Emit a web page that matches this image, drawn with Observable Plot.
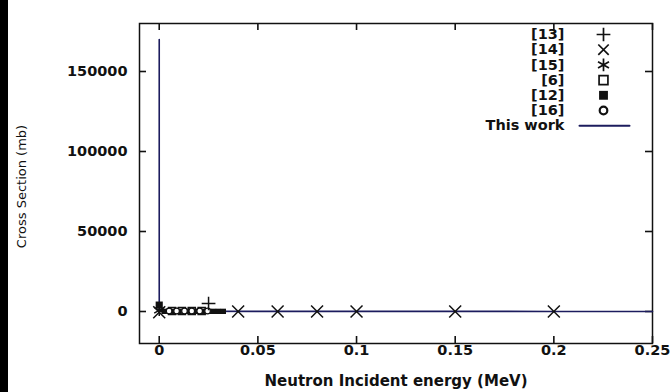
<!DOCTYPE html>
<html>
<head>
<meta charset="utf-8">
<script src="https://cdn.jsdelivr.net/npm/d3@7"></script>
<script src="https://cdn.jsdelivr.net/npm/@observablehq/plot@0.6"></script>
<style>
  html, body { margin: 0; padding: 0; background: #fff; }
  #wrap { position: relative; width: 672px; height: 392px; overflow: hidden; }
  #bar { position: absolute; left: 0; top: 0; width: 8px; height: 392px; background: #000; }
  #chart { position: absolute; left: 0; top: 0; }
</style>
</head>
<body>
<div id="wrap"><div id="chart"></div><div id="bar"></div></div>
<script>
// This work (calculated) curve
const workE = [1e-8, 2.53e-8, 1e-7, 1e-6, 1e-5, 1e-4, 1e-3, 0.01, 0.05, 0.1, 0.15, 0.2, 0.25];
const workS = [170000, 105000, 55000, 17000, 5400, 1700, 540, 170, 75, 55, 50, 45, 40];

// Experimental sets
const ref13E = [0.025];
const ref13S = [5000];
const ref14E = [0.0, 0.04, 0.06, 0.08, 0.1, 0.15, 0.2];
const ref14S = [-500, 0, 0, 0, 0, 0, 0];
const ref15E = [0.0];
const ref15S = [800];
const ref6E = [0.0065, 0.0115, 0.0165, 0.0215];
const ref6S = [300, 300, 300, 300];
const ref12E = [0.0, 0.0025, 0.005, 0.0075, 0.01, 0.0125, 0.015, 0.0175, 0.02, 0.0225, 0.025, 0.0275, 0.03, 0.0325];
const ref12S = [4000, 100, 100, 100, 100, 100, 100, 100, 100, 100, 100, 100, 100, 100];
const ref16E = [0.005, 0.0088, 0.0128, 0.0165, 0.0205, 0.0245];
const ref16S = [300, 300, 300, 300, 300, 300];

const xDomain = [-0.01, 0.25];
const yDomain = [-20000, 180000];
const xTicks = [0, 0.05, 0.1, 0.15, 0.2, 0.25];
const xTickLabels = ["0", "0.05", "0.1", "0.15", "0.2", "0.25"];
const yTicks = [0, 50000, 100000, 150000];

const legendLabels = ["[13]", "[14]", "[15]", "[6]", "[12]", "[16]", "This work"];
const legendSymbols = ["plus", "times", "asterisk", "square", "square", "circle", null];
const legendFilled = [false, false, false, false, true, false, false];

const lineColor = "#1c1c5e";
const ink = "#111";
const font = "DejaVu Sans";

const W = 672, H = 392, mL = 139, mR = 20, mT = 23, mB = 49;
const fw = W - mL - mR, fh = H - mT - mB, tk = 7;
// tick length expressed in data units of each scale
const tx = tk * (xDomain[1] - xDomain[0]) / fw;
const ty = tk * (yDomain[1] - yDomain[0]) / fh;

const pts = (E, S) => E.map((e, i) => ({e, s: S[i]}));
const work = pts(workE, workS);

const legend = legendLabels.map((l, i) => ({l, sym: legendSymbols[i], filled: legendFilled[i], i}));
const rowH = 15.2, row0 = 11;
const symR = {plus: 4.5, times: 4.8, asterisk: 6, square: 5, circle: 3.8};

const chart = Plot.plot({
  width: W,
  height: H,
  marginLeft: mL,
  marginRight: mR,
  marginTop: mT,
  marginBottom: mB,
  style: {fontFamily: font, fontSize: "14px", fontWeight: "bold", color: ink, background: "transparent"},
  x: {domain: xDomain},
  y: {domain: yDomain},
  marks: [
    // inward ticks, all four sides
    Plot.ruleX(xTicks, {x: d => d, y1: yDomain[0], y2: yDomain[0] + ty, stroke: ink, strokeWidth: 1.6}),
    Plot.ruleX(xTicks, {x: d => d, y1: yDomain[1] - ty, y2: yDomain[1], stroke: ink, strokeWidth: 1.6}),
    Plot.ruleY(yTicks, {y: d => d, x1: xDomain[0], x2: xDomain[0] + tx, stroke: ink, strokeWidth: 1.6}),
    Plot.ruleY(yTicks, {y: d => d, x1: xDomain[1] - tx, x2: xDomain[1], stroke: ink, strokeWidth: 1.6}),
    Plot.frame({stroke: ink, strokeWidth: 1.5}),
    // tick labels
    Plot.axisX(xTicks, {anchor: "bottom", tickSize: 0, tickPadding: 1, tickFormat: (d, i) => xTickLabels[i], fill: ink, label: null, fontSize: 14.5}),
    Plot.axisY(yTicks, {anchor: "left", tickSize: 0, tickPadding: 12, tickFormat: d => String(d), fill: ink, label: null, fontSize: 14.5}),
    // axis titles
    Plot.text(["Neutron Incident energy (MeV)"], {frameAnchor: "bottom", dy: 38, textAnchor: "middle", lineAnchor: "middle", fontSize: 15, fill: ink}),
    Plot.text(["Cross Section (mb)"], {frameAnchor: "left", dx: -118, dy: 3, rotate: -90, textAnchor: "middle", lineAnchor: "middle", fontSize: 13, fontWeight: "normal", fill: ink}),
    // curve
    Plot.line(work, {x: "e", y: "s", stroke: lineColor, strokeWidth: 1.6}),
    // experimental points
    Plot.dot(pts(ref6E, ref6S), {x: "e", y: "s", symbol: "square", r: 4, stroke: ink, strokeWidth: 1.5, fill: "white"}),
    Plot.dot(pts(ref12E, ref12S), {x: "e", y: "s", symbol: "square", r: (d, i) => i === 0 ? 6.5 : 3.6, fill: ink, stroke: null}),
    Plot.dot(pts(ref16E, ref16S), {x: "e", y: "s", symbol: "circle", r: 2.8, stroke: ink, strokeWidth: 1.2, fill: "white"}),
    Plot.dot(pts(ref13E, ref13S), {x: "e", y: "s", symbol: "plus", r: 4.5, stroke: ink, strokeWidth: 1.5}),
    Plot.dot(pts(ref15E, ref15S), {x: "e", y: "s", symbol: "asterisk", r: 5.5, stroke: ink, strokeWidth: 1.5}),
    Plot.dot(pts(ref14E, ref14S), {x: "e", y: "s", symbol: "times", r: 5.5, stroke: ink, strokeWidth: 1.5}),
    // legend
    ...legend.map(d => Plot.text([d.l], {frameAnchor: "top-right", dx: -88, dy: row0 + d.i * rowH, textAnchor: "end", lineAnchor: "middle", fill: ink, fontSize: 14.5})),
    ...legend.filter(d => d.sym).map(d => Plot.dot([d], {frameAnchor: "top-right", dx: -49, dy: row0 + d.i * rowH, symbol: d.sym,
      r: symR[d.sym],
      fill: d.filled ? ink : (d.sym === "square" || d.sym === "circle") ? "white" : "none",
      stroke: d.filled ? null : ink, strokeWidth: d.sym === "circle" ? 2.2 : 1.7})),
    Plot.vector(legend.filter(d => !d.sym), {frameAnchor: "top-right", dx: -73, dy: row0 + 6 * rowH, rotate: 90, length: 50, anchor: "start",
      stroke: lineColor, strokeWidth: 2,
      shape: {draw(context, l) { context.moveTo(0, 0); context.lineTo(0, -l); }}})
  ]
});
document.getElementById("chart").appendChild(chart);
</script>
</body>
</html>
